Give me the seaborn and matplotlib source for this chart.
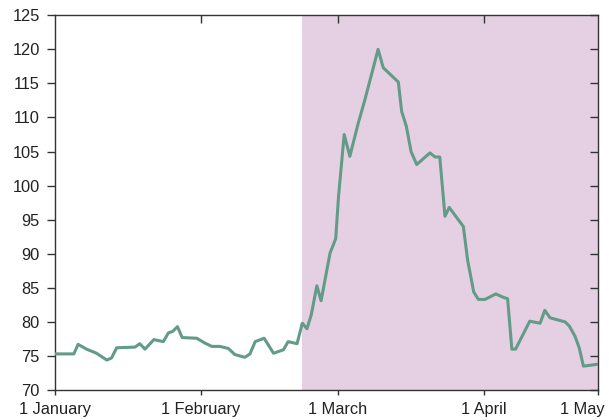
import numpy as np
import pandas as pd
import matplotlib
matplotlib.use("Agg")
import matplotlib.pyplot as plt
import matplotlib.transforms as mtransforms
import seaborn as sns

# Index series: day offset from 1 January and index value
days = [0, 4.0, 4.9, 6.7, 8.8, 11.0, 12.0, 13.1, 17.0, 18.0, 19.1, 21.0, 23.0,
        24.1, 25.0, 26.0, 27.0, 30.1, 31.8, 33.3, 35.0, 36.8, 38.2, 40.3, 41.4,
        42.5, 44.4, 46.4, 48.5, 49.5, 51.4, 52.5, 53.5, 54.4, 55.6, 56.5, 58.4,
        59.6, 60.2, 61.4, 62.6, 64.4, 65.8, 68.6, 69.7, 72.9, 73.6, 74.6, 75.6,
        76.8, 79.6, 80.7, 81.7, 82.8, 83.7, 86.7, 87.6, 88.9, 89.9, 91.3, 93.6,
        95.2, 96.1, 97.0, 97.8, 100.8, 103.0, 104.0, 105.1, 108.3, 109.2, 110.4,
        111.3, 112.2, 115.4]
values = [75.3, 75.3, 76.7, 76.0, 75.4, 74.4, 74.7, 76.2, 76.3, 76.8, 76.0, 77.4,
          77.1, 78.4, 78.6, 79.3, 77.7, 77.6, 76.9, 76.4, 76.4, 76.1, 75.2, 74.8,
          75.3, 77.1, 77.6, 75.4, 75.9, 77.1, 76.8, 79.8, 79.0, 81.0, 85.3, 83.1,
          90.1, 92.2, 98.4, 107.5, 104.3, 109.2, 112.6, 120.0, 117.3, 115.2, 110.9,
          108.7, 105.0, 103.1, 104.8, 104.2, 104.2, 95.5, 96.8, 94.0, 89.1, 84.4,
          83.3, 83.3, 84.1, 83.6, 83.4, 76.0, 76.0, 80.1, 79.8, 81.7, 80.6, 80.0,
          79.4, 77.9, 76.2, 73.5, 73.8]

# Axis ticks
x_tick_pos = [0, 31, 60, 91, 115.3]
x_tick_labels = ["1 January", "1 February", "1 March", "1 April", "1 May"]
y_ticks = list(range(70, 126, 5))

# Shaded period
shade_start = 52.4
x_end = 115.3

line_color = "#629b88"
shade_color = "#e5d0e3"
ink = "#222222"
label_size = 11.8

sns.set_theme(style="ticks")
plt.rcParams["font.family"] = ["Liberation Sans", "DejaVu Sans"]

df = pd.DataFrame({"day": days, "value": values})

fig = plt.figure(figsize=(6.09, 4.20), dpi=100)
ax = fig.add_axes([0.0903, 0.0714, 0.8917, 0.8922])

ax.axvspan(shade_start, x_end, color=shade_color, lw=0, zorder=0)
sns.lineplot(data=df, x="day", y="value", ax=ax, color=line_color,
             linewidth=2.2, estimator=None, sort=False, zorder=3)

ax.set_xlim(0, x_end)
ax.set_ylim(70, 125)
ax.set_xlabel("")
ax.set_ylabel("")

ax.set_yticks(y_ticks)
ax.set_yticklabels([str(v) for v in y_ticks])
ax.set_xticks(x_tick_pos)
ax.set_xticklabels(x_tick_labels)

for side in ["left", "right", "top", "bottom"]:
    ax.spines[side].set_visible(True)
    ax.spines[side].set_color("#333333")
    ax.spines[side].set_linewidth(1.0)

ax.tick_params(axis="y", direction="out", length=5.8, width=1.0,
               color="#333333", labelsize=label_size, labelcolor=ink, pad=5)
ax.tick_params(axis="x", direction="out", length=3.6, width=1.0,
               color="#333333", labelsize=label_size, labelcolor=ink, pad=5)

# Inward ticks mirrored on the top and right edges
top = ax.secondary_xaxis("top")
top.set_xticks(x_tick_pos[1:4])
top.tick_params(direction="in", length=5.8, width=1.0, color="#333333",
                labeltop=False)
top.spines["top"].set_visible(False)
right = ax.secondary_yaxis("right")
right.set_yticks(y_ticks)
right.tick_params(direction="in", length=5.8, width=1.0, color="#333333",
                  labelright=False)
right.spines["right"].set_visible(False)

# Keep the last date label inside the canvas
last = ax.get_xticklabels()[-1]
last.set_transform(last.get_transform() +
                   mtransforms.ScaledTranslation(-16 / 100, 0, fig.dpi_scale_trans))

fig.savefig("out.png", dpi=100)
